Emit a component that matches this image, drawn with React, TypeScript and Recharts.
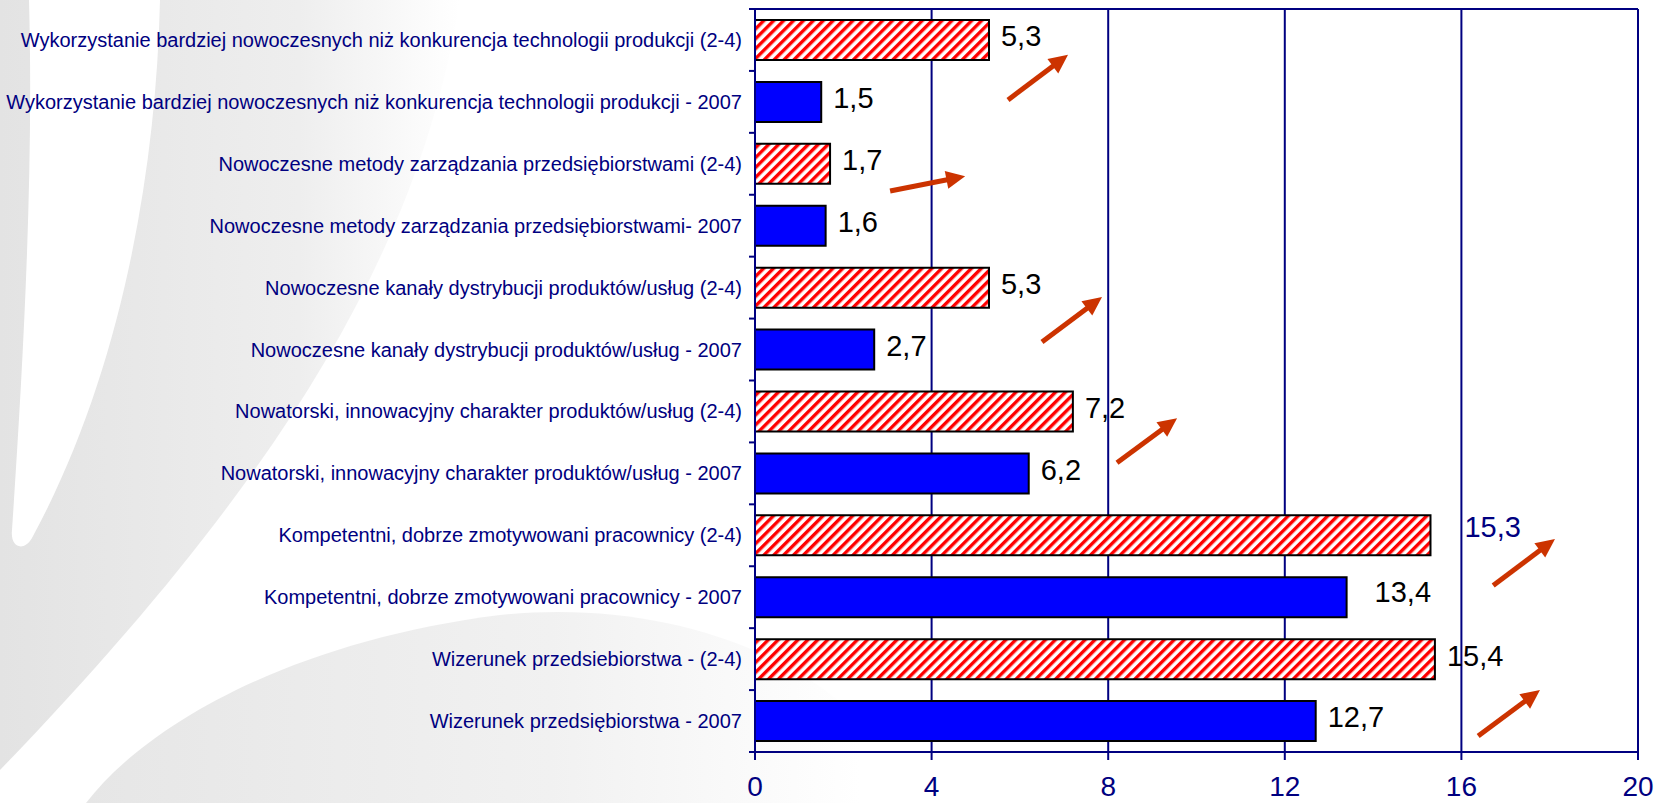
import React from 'react';
import { BarChart, Bar, XAxis, YAxis, CartesianGrid, Cell, LabelList, ReferenceLine } from 'recharts';

const categories = [
  'Wykorzystanie bardziej nowoczesnych niż konkurencja technologii produkcji (2-4)',
  'Wykorzystanie bardziej nowoczesnych niż konkurencja technologii produkcji - 2007',
  'Nowoczesne metody zarządzania przedsiębiorstwami (2-4)',
  'Nowoczesne metody zarządzania przedsiębiorstwami- 2007',
  'Nowoczesne kanały dystrybucji produktów/usług (2-4)',
  'Nowoczesne kanały dystrybucji produktów/usług - 2007',
  'Nowatorski, innowacyjny charakter produktów/usług (2-4)',
  'Nowatorski, innowacyjny charakter produktów/usług - 2007',
  'Kompetentni, dobrze zmotywowani pracownicy (2-4)',
  'Kompetentni, dobrze zmotywowani pracownicy - 2007',
  'Wizerunek przedsiebiorstwa - (2-4)',
  'Wizerunek przedsiębiorstwa - 2007',
];
const values = [5.3, 1.5, 1.7, 1.6, 5.3, 2.7, 7.2, 6.2, 15.3, 13.4, 15.4, 12.7];
const periods = ['2-4', '2007', '2-4', '2007', '2-4', '2007', '2-4', '2007', '2-4', '2007', '2-4', '2007'];
const xTicks = [0, 4, 8, 12, 16, 20];
// trend arrows: value units on x, row units on y (row i spans i..i+1 from the top)
const arrows = [
  { x1: 5.73, r1: 1.47, x2: 7.09, r2: 0.74 },
  { x1: 3.06, r1: 2.94, x2: 4.76, r2: 2.7 },
  { x1: 6.5, r1: 5.38, x2: 7.86, r2: 4.65 },
  { x1: 8.2, r1: 7.33, x2: 9.56, r2: 6.61 },
  { x1: 16.72, r1: 9.31, x2: 18.12, r2: 8.56 },
  { x1: 16.38, r1: 11.74, x2: 17.78, r2: 11.0 },
];

const data = categories.map((name, i) => ({ name, value: values[i], period: periods[i] }));

const NAVY = '#000080';
const BLUE = '#0000FF';
const ARROW = '#CC3300';
const FONT = '"Liberation Sans", Arial, sans-serif';

const labelNudges: Record<number, { dx: number; dy: number; color?: string }> = {
  8: { dx: 22, dy: -5, color: NAVY },
  9: { dx: 16, dy: -2 },
};

const fmt = (v: number) => v.toFixed(1).replace('.', ',');

const CategoryTick = (props: any) => {
  const { x, y, payload, index, visibleTicksCount } = props;
  const half = payload && typeof payload.offset === 'number' && payload.offset > 0 ? payload.offset : 31;
  const ax = Number(x) + 13;
  const isLast = index === (visibleTicksCount ?? categories.length) - 1;
  return (
    <g>
      <line x1={ax - 6} x2={ax} y1={y - half} y2={y - half} stroke={NAVY} strokeWidth={2} />
      {isLast && <line x1={ax - 6} x2={ax} y1={y + half} y2={y + half} stroke={NAVY} strokeWidth={2} />}
      <text x={x} y={y} dy={7} textAnchor="end" fontSize={20} fill={NAVY} fontFamily={FONT}>
        {payload.value}
      </text>
    </g>
  );
};

const ValueLabel = (props: any) => {
  const { x, y, width, height, value, index } = props;
  const n = labelNudges[index] ?? { dx: 0, dy: 0 };
  return (
    <text
      x={Number(x) + Number(width) + 12 + n.dx}
      y={Number(y) + Number(height) / 2 + 6.4 + n.dy}
      fontSize={29}
      fontFamily={FONT}
      fill={n.color ?? '#000'}
    >
      {fmt(Number(value))}
    </text>
  );
};

// receives pixel positions of two neighbouring row centres from the scales, interpolates the rows
const ArrowShape = (p: any) => {
  const { x1, y1: yA, x2, y2: yB, r1, r2, rowA } = p;
  const pitch = yB - yA;
  const py1 = yA + (r1 - rowA - 0.5) * pitch;
  const py2 = yA + (r2 - rowA - 0.5) * pitch;
  const dx = x2 - x1;
  const dy = py2 - py1;
  const len = Math.sqrt(dx * dx + dy * dy) || 1;
  const ux = dx / len;
  const uy = dy / len;
  const hl = 19;
  const hw = 9;
  const bx = x2 - ux * hl;
  const by = py2 - uy * hl;
  const nx = -uy;
  const ny = ux;
  return (
    <g>
      <line x1={x1} y1={py1} x2={bx + ux * 2} y2={by + uy * 2} stroke={ARROW} strokeWidth={5} />
      <polygon
        points={`${x2},${py2} ${bx + nx * hw},${by + ny * hw} ${bx - nx * hw},${by - ny * hw}`}
        fill={ARROW}
      />
    </g>
  );
};

const Watermark = () => (
  <svg width={1668} height={803} style={{ position: 'absolute', left: 0, top: 0 }}>
    <defs>
      <linearGradient id="wmA" x1="0" x2="1" y1="0" y2="0">
        <stop offset="0" stopColor="#e3e3e3" />
        <stop offset="0.65" stopColor="#eeeeee" />
        <stop offset="1" stopColor="#ffffff" />
      </linearGradient>
      <linearGradient id="wmB" x1="0" x2="1" y1="0" y2="0">
        <stop offset="0" stopColor="#e6e6e6" />
        <stop offset="0.6" stopColor="#f1f1f1" />
        <stop offset="1" stopColor="#ffffff" />
      </linearGradient>
    </defs>
    <path d="M0,0 L460,0 C420,250 280,480 0,770 Z" fill="url(#wmA)" />
    <path d="M29,0 L160,0 C156,180 118,380 32,538 C24,552 10,548 12,530 C22,380 34,180 29,0 Z" fill="#ffffff" />
    <path d="M86,803 C150,720 300,640 500,615 C640,600 780,640 860,720 L860,803 Z" fill="url(#wmB)" />
  </svg>
);

export default function App() {
  return (
    <div style={{ position: 'absolute', left: 0, top: 0, width: 1668, height: 803, background: '#fff' }}>
      <Watermark />
      <div style={{ position: 'absolute', left: 0, top: 0 }}>
        <BarChart
          width={1668}
          height={803}
          data={data}
          layout="vertical"
          margin={{ top: 8, right: 30, bottom: 0, left: 0 }}
        >
          <defs>
            <pattern id="hatch" width="7" height="7" patternUnits="userSpaceOnUse" patternTransform="rotate(45)">
              <rect width="7" height="7" fill="#ffffff" />
              <rect width="3.4" height="7" fill="#FF0000" />
            </pattern>
          </defs>
          <CartesianGrid vertical horizontal={false} stroke={NAVY} strokeWidth={2} />
          <XAxis
            type="number"
            domain={[0, 20]}
            ticks={xTicks}
            interval={0}
            height={51}
            tickSize={8}
            tickMargin={16}
            axisLine={{ stroke: NAVY, strokeWidth: 2 }}
            tickLine={{ stroke: NAVY, strokeWidth: 2 }}
            tick={{ fill: NAVY, fontSize: 28, fontFamily: FONT }}
          />
          <XAxis
            xAxisId="top"
            orientation="top"
            type="number"
            domain={[0, 20]}
            ticks={xTicks}
            height={1}
            tick={false}
            tickLine={false}
            axisLine={{ stroke: NAVY, strokeWidth: 2 }}
          />
          <YAxis
            type="category"
            dataKey="name"
            width={755}
            interval={0}
            tickSize={6}
            tickMargin={7}
            axisLine={{ stroke: NAVY, strokeWidth: 2 }}
            tickLine={false}
            tick={<CategoryTick />}
          />
          <ReferenceLine x={20} stroke={NAVY} strokeWidth={2} />
          <Bar dataKey="value" barSize={40} stroke="#000" strokeWidth={2} isAnimationActive={false}>
            {data.map((d, i) => (
              <Cell key={i} fill={d.period === '2-4' ? 'url(#hatch)' : BLUE} />
            ))}
            <LabelList dataKey="value" content={<ValueLabel />} />
          </Bar>
          {arrows.map((a, i) => {
            const rowA = Math.min(Math.floor(Math.min(a.r1, a.r2)), categories.length - 2);
            const rowB = rowA + 1;
            return (
              <ReferenceLine
                key={`arrow-${i}`}
                segment={[
                  { x: a.x1, y: categories[rowA] },
                  { x: a.x2, y: categories[rowB] },
                ]}
                ifOverflow="visible"
                shape={<ArrowShape r1={a.r1} r2={a.r2} rowA={rowA} />}
              />
            );
          })}
        </BarChart>
      </div>
    </div>
  );
}
